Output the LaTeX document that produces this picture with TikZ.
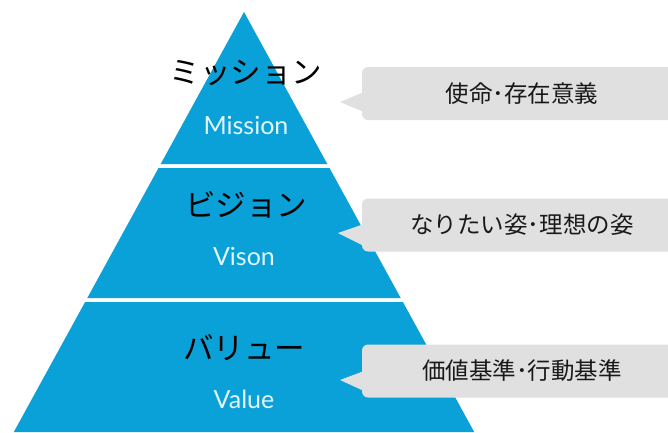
\documentclass[tikz,border=0pt]{standalone}
\usepackage{fontspec}
\newfontfamily\jpfont{Noto Sans CJK JP}
\newfontfamily\enfont{Lato}
\definecolor{pyr}{RGB}{10,161,216}
\definecolor{boxgray}{RGB}{224,224,224}
\definecolor{entext}{RGB}{226,245,252}
\definecolor{ctextc}{RGB}{25,25,25}
\begin{document}
\begin{tikzpicture}[x=1pt,y=-1pt,
  jlab/.style={font=\jpfont\fontsize{30.5}{34}\selectfont, text=black, inner sep=0pt},
  elab/.style={font=\enfont\fontsize{25}{28}\selectfont, text=entext, inner sep=0pt},
  cbox/.style={fill=boxgray, rounded corners=6pt, minimum width=320pt, minimum height=53pt, inner sep=0pt,
    font=\jpfont\fontsize{23.5}{27}\selectfont, text=ctextc},
  tipfill/.style={fill=boxgray}]
\useasboundingbox (0,0) rectangle (668,432);
\fill[white] (0,0) rectangle (668,432);
% pyramid layers
\fill[pyr] (244,12) -- (327.3,164) -- (160.7,164) -- cycle;
\fill[pyr] (158.5,168) -- (329.5,168) -- (400.7,298) -- (87.3,298) -- cycle;
\fill[pyr] (85.1,302) -- (402.9,302) -- (474.2,432) -- (13.8,432) -- cycle;
% labels
\node[jlab] (j1) at (246,73) {ミッション};
\node[elab] (e1) at (246,125) {Mission};
\node[jlab] (j2) at (246,205) {ビジョン};
\node[elab] (e2) at (244,256) {Vison};
\node[jlab] (j3) at (244,348) {バリュー};
\node[elab] (e3) at (244,399) {Value};
% callouts
\node[cbox] (c1) at (522,93.5) {使命･存在意義};
\fill[tipfill] (340,102) -- (364,92) -- (364,112) -- cycle;
\node[cbox] (c2) at (522,225) {なりたい姿･理想の姿};
\fill[tipfill] (338,233) -- (364,224) -- (364,246) -- cycle;
\node[cbox] (c3) at (522,371) {価値基準･行動基準};
\fill[tipfill] (340,380) -- (364,371) -- (364,391) -- cycle;
\end{tikzpicture}
\end{document}
